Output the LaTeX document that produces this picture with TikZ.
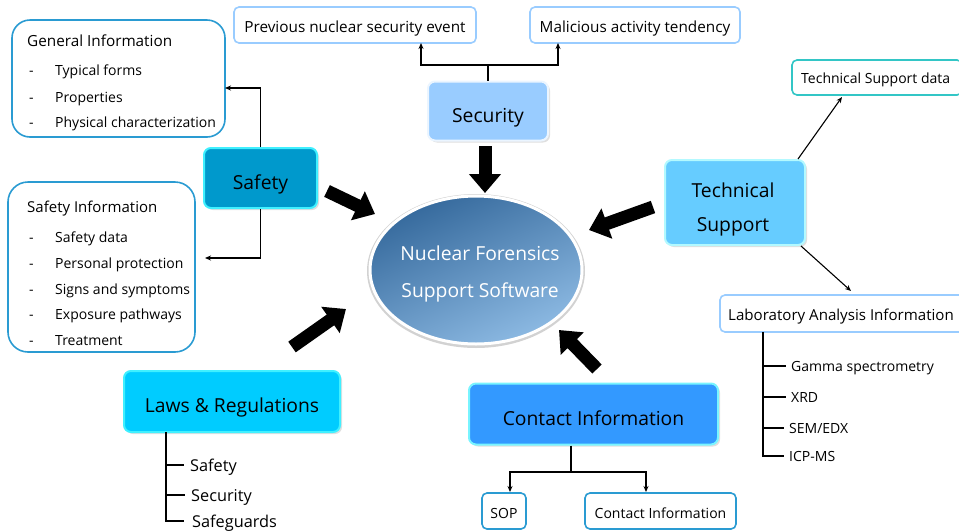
\documentclass[tikz,border=0pt]{standalone}
\usepackage{fontspec}
\setmainfont{Open Sans}
\usetikzlibrary{arrows.meta,shadows,shapes.geometric,calc}
\definecolor{gi}{HTML}{2A9BD2}
\definecolor{lb}{HTML}{99CCFF}
\definecolor{tq}{HTML}{33C6C6}
\definecolor{secf}{HTML}{99CCFF}
\definecolor{safef}{HTML}{0099CC}
\definecolor{techf}{HTML}{66CCFF}
\definecolor{lawf}{HTML}{00CCFF}
\definecolor{conf}{HTML}{3399FF}
\definecolor{cyb}{HTML}{40F0FF}
\definecolor{ctop}{HTML}{35699C}
\definecolor{cbot}{HTML}{8DBAE3}
\begin{document}
\begin{tikzpicture}[x=1pt,y=-1pt,
  sm/.style={font=\fontsize{14}{17}\selectfont, inner sep=0pt, anchor=base west},
  hd/.style={sm, font=\fontsize{15.3}{18}\selectfont},
  big/.style={font=\fontsize{19.3}{23}\selectfont, text height=22pt, text depth=0pt},
  wbox/.style={draw, line width=1.6pt, rounded corners=5pt, fill=white, inner sep=0pt},
  wtext/.style={text height=14pt, text depth=0pt},
  cbox/.style={draw=cyb, line width=2pt, rounded corners=7pt, inner sep=0pt,
    drop shadow={shadow xshift=2pt, shadow yshift=-2pt, opacity=0.25}},
  conn/.style={line width=1.4pt, -{Stealth[length=6pt,width=5pt]}},
  tree/.style={line width=1.6pt},
  bigarrow/.style={line width=13pt, -{Triangle[width=31pt,length=19pt]}}
]
\useasboundingbox (0,0) rectangle (959,531);

% ---------- white info boxes ----------
\node[wbox, draw=gi, rounded corners=18pt, minimum width=213pt, minimum height=117pt] (gen) at (118.5,78.5) {};
\node[hd] (genT) at (27,46) {General Information};
\node[sm] (g1d) at (29,75) {-}; \node[sm] (g1) at (55,75) {Typical forms};
\node[sm] (g2d) at (29,102) {-}; \node[sm] (g2) at (55,102) {Properties};
\node[sm] (g3d) at (29,127) {-}; \node[sm] (g3) at (55,127) {Physical characterization};

\node[wbox, draw=gi, rounded corners=20pt, minimum width=187pt, minimum height=170pt] (sinfo) at (101.5,267) {};
\node[hd, font=\fontsize{15}{18}\selectfont] (siT) at (27,212) {Safety Information};
\node[sm] (s1d) at (29,242) {-}; \node[sm] (s1) at (55,242) {Safety data};
\node[sm] (s2d) at (29,268) {-}; \node[sm] (s2) at (55,268) {Personal protection};
\node[sm] (s3d) at (29,294) {-}; \node[sm] (s3) at (55,294) {Signs and symptoms};
\node[sm] (s4d) at (29,319) {-}; \node[sm] (s4) at (55,319) {Exposure pathways};
\node[sm] (s5d) at (29,345) {-}; \node[sm] (s5) at (55,345) {Treatment};

\node[wbox, wtext, draw=lb, minimum width=242pt, minimum height=36pt, font=\fontsize{15.3}{18}\selectfont] (prev) at (355,25) {Previous nuclear security event};
\node[wbox, wtext, draw=lb, minimum width=210pt, minimum height=36pt, font=\fontsize{15.3}{18}\selectfont] (mal) at (635,25) {Malicious activity tendency};
\node[wbox, draw=tq, minimum width=170pt, minimum height=35pt] (tsd) at (877,77.5) {};
\node[sm] (tsdT) at (801,83) {Technical Support data};
\node[wbox, draw=lb, minimum width=244pt, minimum height=37pt] (lab) at (842,313.5) {};
\node[sm, font=\fontsize{15.1}{18}\selectfont] (labT) at (728,320) {Laboratory Analysis Information};
\node[wbox, wtext, draw=gi, minimum width=44pt, minimum height=36pt, font=\fontsize{14}{17}\selectfont] (sop) at (504,511) {SOP};
\node[wbox, wtext, draw=gi, minimum width=151pt, minimum height=36pt, font=\fontsize{14}{17}\selectfont] (cis) at (660.5,511) {Contact Information};

% ---------- coloured boxes ----------
\node[cbox, fill=secf, draw=white!80!secf, minimum width=120pt, minimum height=59pt, big] (sec) at (488,111) {Security};
\node[cbox, fill=safef, minimum width=113pt, minimum height=60pt, big] (safety) at (260.5,178) {Safety};
\node[cbox, fill=techf, draw=white!60!cyb, minimum width=140pt, minimum height=85pt] (tech) at (735,202.5) {};
\node[align=center, inner sep=0pt, font=\fontsize{19.3}{34}\selectfont] (techT) at (733,209) {Technical\\Support};
\node[cbox, fill=lawf, minimum width=216pt, minimum height=61pt, big] (laws) at (232,401.5) {Laws \& Regulations};
\node[cbox, fill=conf, draw=cyb!70!white, minimum width=249pt, minimum height=61pt, big] (cont) at (593.5,414) {Contact Information};

% ---------- central ellipse ----------
\fill[gray!35] (476,271) ellipse [x radius=109pt, y radius=77pt];
\node[ellipse, draw=white, line width=3pt, top color=ctop, bottom color=cbot, shading angle=25,
  minimum width=212pt, minimum height=148pt] (core) at (476,270) {};
\node[align=center, inner sep=0pt, text=white, font=\fontsize{19.3}{37}\selectfont] (coreT) at (480,274) {Nuclear Forensics\\Support Software};

% ---------- connectors ----------
\coordinate (giA) at (225,88);
\draw[conn] (safety.north) |- (giA);
\coordinate (siA) at (205,258);
\draw[conn] (safety.south) |- (siA);

\coordinate (secJ) at (488,65);
\coordinate (prA) at (421,43);
\coordinate (maA) at (558,43);
\draw[line width=1.4pt] (sec.north) -- (secJ);
\draw[conn] (secJ) -| (prA);
\draw[conn] (secJ) -| (maA);

\coordinate (tsA) at (842,97);
\coordinate (labA) at (851,291);
\draw[line width=1.1pt, -{Stealth[length=6pt,width=5pt]}] ([xshift=-8pt]tech.north east) -- (tsA);
\draw[line width=1.1pt, -{Stealth[length=6pt,width=5pt]}] ([xshift=-5pt]tech.south east) -- (labA);

\coordinate (conJ) at (571,472);
\coordinate (sopA) at (510,492);
\coordinate (cisA) at (646,492);
\draw[line width=1.4pt] (cont.south -| conJ) -- (conJ);
\draw[conn] (conJ) -| (sopA);
\draw[conn] (conJ) -| (cisA);

% lab tree
\node[sm] (gam) at (791,371) {Gamma spectrometry};
\node[sm] (xrd) at (791,402) {XRD};
\node[sm] (sem) at (789,433) {SEM/EDX};
\node[sm] (icp) at (789,461) {ICP-MS};
\coordinate (labR) at (763,332);
\foreach \n in {gam,xrd,sem,icp} \coordinate (\n B) at ([xshift=-5pt,yshift=5pt]\n.base west);
\draw[tree] (labR) |- (icpB);
\foreach \n in {gam,xrd,sem} \draw[tree] (labR |- \n B) -- (\n B);

% laws tree
\node[sm, font=\fontsize{16.3}{19}\selectfont] (lsa) at (190,471) {Safety};
\node[sm, font=\fontsize{16.3}{19}\selectfont] (lse) at (191,501) {Security};
\node[sm, font=\fontsize{16.3}{19}\selectfont] (lsg) at (192,527) {Safeguards};
\coordinate (lawR) at (166,432);
\coordinate (lsaB) at ([xshift=-6pt,yshift=6pt]lsa.base west);
\coordinate (lseB) at ([xshift=-6pt,yshift=6pt]lse.base west);
\coordinate (lsgB) at ([xshift=-8pt,yshift=6pt]lsg.base west);
\draw[tree] (lawR) |- (lsgB);
\foreach \n in {lsa,lse} \draw[tree] (lawR |- \n B) -- (\n B);

% ---------- big arrows ----------
\coordinate (b1s) at (485,146); \coordinate (b1e) at (485,193);
\coordinate (b2s) at (327,191); \coordinate (b2e) at (375,214);
\coordinate (b3s) at (653,207); \coordinate (b3e) at (589,230);
\coordinate (b4s) at (292,347); \coordinate (b4e) at (346,309);
\coordinate (b5s) at (597,369); \coordinate (b5e) at (559,330);
\foreach \s/\e in {b1s/b1e,b2s/b2e,b3s/b3e,b4s/b4e,b5s/b5e}
  \draw[bigarrow] (\s) -- (\e);
\end{tikzpicture}
\end{document}
